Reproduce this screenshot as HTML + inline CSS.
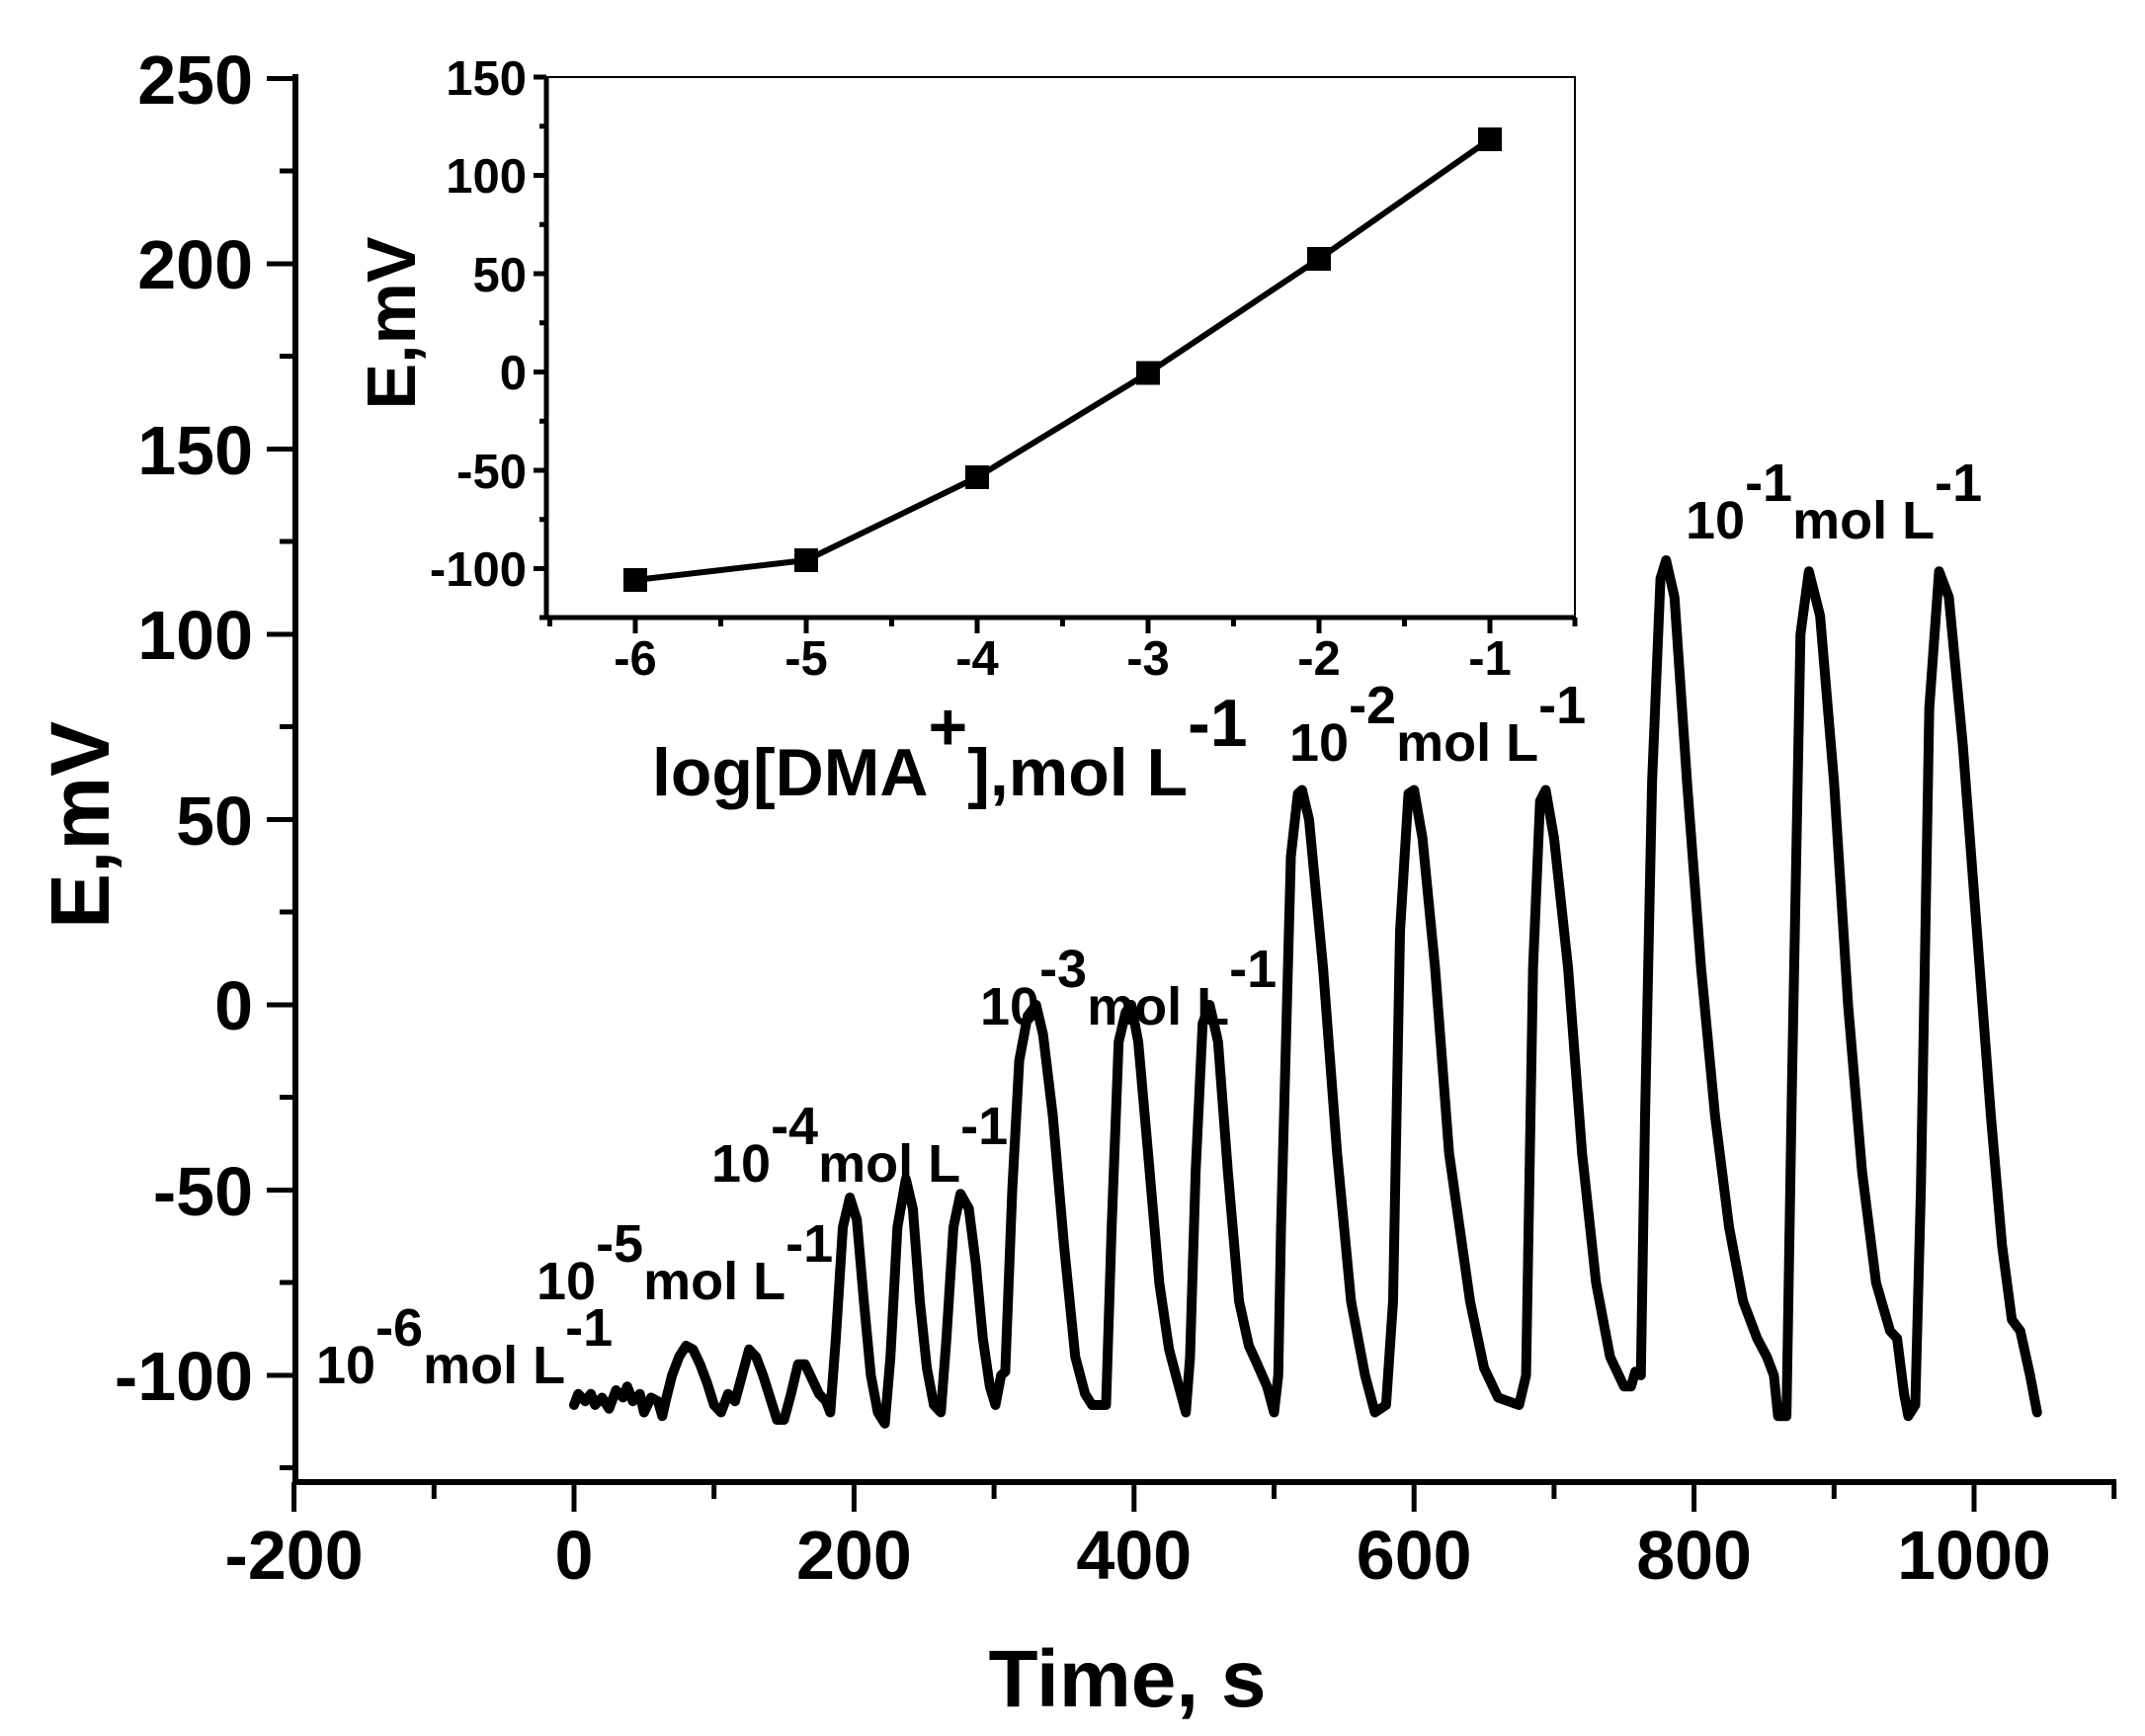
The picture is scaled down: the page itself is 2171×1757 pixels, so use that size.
<!DOCTYPE html>
<html><head><meta charset="utf-8"><style>
html,body{margin:0;padding:0;background:#fff;}
svg{display:block;font-family:"Liberation Sans",Arial,sans-serif;font-weight:bold;}
</style></head><body>
<svg width="2171" height="1757" viewBox="0 0 2171 1757" xmlns="http://www.w3.org/2000/svg">
<rect width="2171" height="1757" fill="#fff"/>
<g stroke="#000" stroke-width="6" fill="none" stroke-linecap="square">
<path d="M299,78 V1500 H2139"/>
</g>
<g stroke="#000" stroke-width="5" fill="none">
<path d="M270,79.5H299 M270,267H299 M270,454.5H299 M270,642H299 M270,829.5H299 M270,1017H299 M270,1204.5H299 M270,1392H299"/>
<path d="M283,173H299 M283,360.5H299 M283,548H299 M283,735.5H299 M283,923H299 M283,1110.5H299 M283,1298H299 M283,1485.5H299"/>
<path d="M297.6,1500V1530 M581,1500V1530 M864.4,1500V1530 M1147.8,1500V1530 M1431.2,1500V1530 M1714.6,1500V1530 M1998,1500V1530"/>
<path d="M439.3,1500V1517 M722.7,1500V1517 M1006.1,1500V1517 M1289.5,1500V1517 M1572.9,1500V1517 M1856.3,1500V1517 M2139.7,1500V1517"/>
</g>
<g font-size="70" text-anchor="end">
<text x="256" y="105">250</text>
<text x="256" y="292">200</text>
<text x="256" y="480">150</text>
<text x="256" y="667">100</text>
<text x="256" y="855">50</text>
<text x="256" y="1042">0</text>
<text x="256" y="1230">-50</text>
<text x="256" y="1417">-100</text>
</g>
<g font-size="70" text-anchor="middle">
<text x="297.6" y="1598">-200</text>
<text x="581" y="1598">0</text>
<text x="864.4" y="1598">200</text>
<text x="1147.8" y="1598">400</text>
<text x="1431.2" y="1598">600</text>
<text x="1714.6" y="1598">800</text>
<text x="1998" y="1598">1000</text>
</g>
<text x="1141" y="1727" font-size="82" text-anchor="middle">Time, s</text>
<text transform="translate(110,835) rotate(-90)" font-size="84" text-anchor="middle">E,mV</text>

<g transform="translate(581,1017) scale(1.417,-3.75)">
<polyline vector-effect="non-scaling-stroke" fill="none" stroke="#000" stroke-width="10" stroke-linejoin="round" stroke-linecap="round" points="
0,-108 3,-105 8,-107 12,-105 15,-108 20,-106 25,-109 30,-104 35,-106 38,-103 42,-107 47,-105 50,-110 55,-106 60,-107 63,-111 66,-106 70,-100 75,-95 80,-92 85,-93 90,-97 95,-102 100,-108 105,-110 110,-105 115,-107 120,-100 125,-93 130,-95 135,-100 140,-106 145,-112 150,-112 155,-105 160,-97 165,-97 170,-101 175,-105 180,-107 183,-110 187,-90 192,-60 197,-52 202,-58 207,-80 212,-100 217,-110 222,-113 226,-95 231,-60 237,-47 242,-55 247,-80 252,-98 257,-108 262,-110 266,-90 271,-60 276,-51 282,-55 287,-70 292,-90 297,-103 301,-108 305,-100 308,-99 313,-50 318,-15 324,-3 330,0 335,-8 342,-30 350,-65 358,-95 365,-105 370,-108 380,-108 384,-60 389,-10 394,-2 398,0 403,-10 410,-40 418,-75 425,-93 432,-103 437,-110 440,-95 444,-45 449,-5 454,0 460,-10 467,-45 475,-80 482,-92 488,-97 495,-103 500,-110 503,-100
505,-60 512,40 517,57 520,58 525,50 535,10 545,-40 555,-80 565,-100 572,-110 580,-108 585,-80 590,20 596,57 600,58 606,45 615,10 625,-40 640,-80 650,-98 660,-106 675,-108 680,-100 685,10 690,55 694,58 700,45 710,10 720,-40 730,-75 740,-95 750,-103 755,-103 758,-99 762,-100 765,-30 770,60 776,115 780,120 786,110 795,60 805,10 815,-30 825,-60 835,-80 845,-90 852,-95 857,-100 860,-111 866,-111 870,-20 876,100 882,117 890,105 900,60 910,0 920,-45 930,-75 940,-88 945,-90 950,-105 953,-111 958,-108 962,-50 968,80 975,117 982,110 992,70 1002,20 1012,-30 1020,-65 1027,-85 1033,-88 1040,-100 1045,-110"/>
</g>

<g font-size="54">
<text x="320" y="1400">10<tspan dy="-38">-6</tspan><tspan dy="38">mol L</tspan><tspan dy="-38">-1</tspan></text>
<text x="543" y="1315">10<tspan dy="-38">-5</tspan><tspan dy="38">mol L</tspan><tspan dy="-38">-1</tspan></text>
<text x="720" y="1196">10<tspan dy="-38">-4</tspan><tspan dy="38">mol L</tspan><tspan dy="-38">-1</tspan></text>
<text x="992" y="1037">10<tspan dy="-38">-3</tspan><tspan dy="38">mol L</tspan><tspan dy="-38">-1</tspan></text>
<text x="1305" y="770">10<tspan dy="-38">-2</tspan><tspan dy="38">mol L</tspan><tspan dy="-38">-1</tspan></text>
<text x="1706" y="545">10<tspan dy="-38">-1</tspan><tspan dy="38">mol L</tspan><tspan dy="-38">-1</tspan></text>
</g>

<rect x="553" y="78" width="1041" height="547" fill="none" stroke="#000" stroke-width="2"/>
<g stroke="#000" stroke-width="5" fill="none">
<path d="M553,78V625H1594"/>
<path d="M540,78H553 M540,177.5H553 M540,277H553 M540,376.5H553 M540,476H553 M540,575.5H553"/>
<path d="M546,127.7H553 M546,227.2H553 M546,326.7H553 M546,426.2H553 M546,525.7H553 M546,625H553"/>
<path d="M643,625V641 M816,625V641 M989,625V641 M1162,625V641 M1335,625V641 M1508,625V641"/>
<path d="M556.5,625V634 M729.5,625V634 M902.5,625V634 M1075.5,625V634 M1248.5,625V634 M1421.5,625V634 M1594,625V634"/>
</g>
<g font-size="49" text-anchor="end">
<text x="533" y="96">150</text>
<text x="533" y="195">100</text>
<text x="533" y="295">50</text>
<text x="533" y="394">0</text>
<text x="533" y="494">-50</text>
<text x="533" y="593">-100</text>
</g>
<g font-size="49" text-anchor="middle">
<text x="643" y="683">-6</text>
<text x="816" y="683">-5</text>
<text x="989" y="683">-4</text>
<text x="1162" y="683">-3</text>
<text x="1335" y="683">-2</text>
<text x="1508" y="683">-1</text>
</g>
<text transform="translate(420,327) rotate(-90)" font-size="70" text-anchor="middle">E,mV</text>
<text x="660" y="805" font-size="68">log[DMA<tspan dy="-46">+</tspan><tspan dy="46">],mol L</tspan><tspan dy="-50">-1</tspan></text>
<polyline fill="none" stroke="#000" stroke-width="6" stroke-linejoin="round" points="643,587 816,567 989,483 1162,377.5 1335,262 1508,141"/>
<g fill="#000">
<rect x="631" y="575" width="24" height="24"/>
<rect x="804" y="555" width="24" height="24"/>
<rect x="977" y="471" width="24" height="24"/>
<rect x="1150" y="365.5" width="24" height="24"/>
<rect x="1323" y="250" width="24" height="24"/>
<rect x="1496" y="129" width="24" height="24"/>
</g>
</svg>
</body></html>
